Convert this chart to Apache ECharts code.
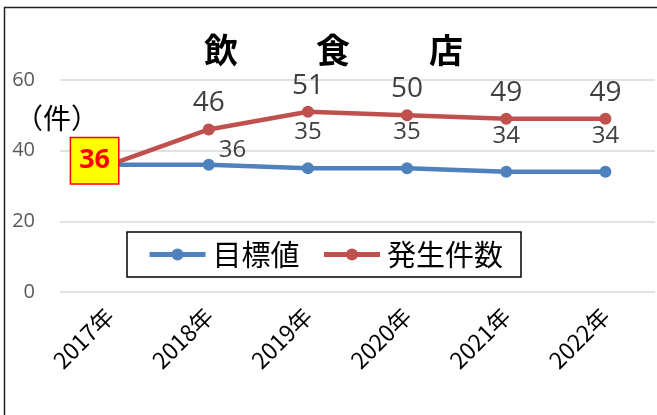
<!DOCTYPE html>
<html><head><meta charset="utf-8">
<script src="https://cdn.jsdelivr.net/npm/echarts@6/dist/echarts.min.js"></script>
<style>html,body{margin:0;padding:0;background:#fff}#c{width:657px;height:415px}</style>
</head><body><div id="c"></div>
<script>
const categories = ['2017年','2018年','2019年','2020年','2021年','2022年'];
const targetValues = [36, 36, 35, 35, 34, 34];
const caseValues = [36, 46, 51, 50, 49, 49];
const yTicks = {min: 0, max: 60, interval: 20};
const titleChars = ['飲','食','店'];
const unitLabel = '（件）';
const seriesNames = ['目標値','発生件数'];

const JP = '"Noto Sans CJK JP", sans-serif';
const NUM = '"Open Sans", "Noto Sans", sans-serif';
const chart = echarts.init(document.getElementById('c'), null, {renderer:'canvas'});

const blueData = targetValues.map((v,i) => {
  if (i === 0) return {value: v, label: {show: false}};
  if (i === 1) return {value: v, label: {position: 'right', distance: 4, offset: [0, -15]}};
  return v;
});
const redData = caseValues.map((v,i) => {
  if (i === 0) return {value: v, label: {
    position: 'inside', offset: [-15, -4], color: '#FF0000', fontWeight: 'bold', fontSize: 27,
    fontFamily: NUM, backgroundColor: '#FFFF00', borderColor: '#FF0000', borderWidth: 1.5,
    padding: [8, 8, 7, 8], lineHeight: 30
  }};
  return v;
});

chart.setOption({
  animation: false,
  backgroundColor: '#fff',
  graphic: [
    {type:'line', shape:{x1:4.5, y1:7, x2:4.5, y2:415}, style:{stroke:'#222', lineWidth:1.5}},
    {type:'line', shape:{x1:4, y1:7.5, x2:657, y2:7.5}, style:{stroke:'#222', lineWidth:1.5}},
    {type:'text', left: 204, top: 33, style:{text: titleChars[0], font: 'bold 34px ' + JP, fill:'#000'}},
    {type:'text', left: 316, top: 33, style:{text: titleChars[1], font: 'bold 34px ' + JP, fill:'#000'}},
    {type:'text', left: 429, top: 33, style:{text: titleChars[2], font: 'bold 34px ' + JP, fill:'#000'}},
    {type:'text', left: 15, top: 104, style:{text: unitLabel, font: '28px ' + JP, fill:'#000'}}
  ],
  legend: {
    data: seriesNames,
    left: 127, top: 232,
    backgroundColor: '#fff', borderColor: '#000', borderWidth: 1.5,
    padding: [8, 18, 8, 20],
    itemWidth: 56, itemHeight: 15, itemGap: 22,
    lineStyle: {width: 5},
    textStyle: {fontFamily: JP, fontSize: 29, color: '#000', padding: [0,0,0,2]}
  },
  grid: {left: 60, right: 2, top: 80, bottom: 123, containLabel: false},
  xAxis: {
    type: 'category', data: categories, boundaryGap: true,
    axisLine: {show: false}, axisTick: {show: false},
    axisLabel: {rotate: 45, margin: 20, color: '#000', fontSize: 23, fontFamily: JP, interval: 0}
  },
  yAxis: {
    type: 'value', min: yTicks.min, max: yTicks.max, interval: yTicks.interval,
    axisLine: {show: false}, axisTick: {show: false},
    axisLabel: {color: '#595959', fontSize: 20, fontFamily: NUM, margin: 25},
    splitLine: {lineStyle: {color: '#D9D9D9', width: 1.5}}
  },
  series: [
    {
      name: seriesNames[0], type: 'line', data: blueData,
      color: '#4F81BD', symbol: 'circle', symbolSize: 12,
      lineStyle: {width: 4.5, color: '#4F81BD'},
      itemStyle: {color: '#4F81BD'},
      label: {show: true, position: 'top', distance: 18, color: '#404040', fontSize: 24, fontFamily: NUM},
      z: 2
    },
    {
      name: seriesNames[1], type: 'line', data: redData,
      color: '#C0504D', symbol: 'circle', symbolSize: 12,
      lineStyle: {width: 4.5, color: '#C0504D'},
      itemStyle: {color: '#C0504D'},
      label: {show: true, position: 'top', distance: 6, color: '#404040', fontSize: 28, fontFamily: NUM},
      z: 3
    }
  ]
});
</script></body></html>
